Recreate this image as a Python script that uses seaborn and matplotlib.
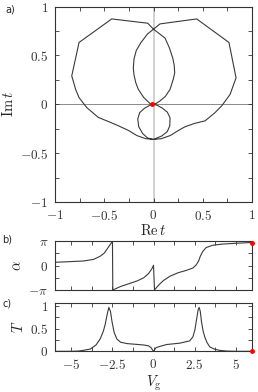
import numpy as np
import pandas as pd
import seaborn as sns
import matplotlib.pyplot as plt
from matplotlib.ticker import FixedLocator, MultipleLocator

# complex transmission t traced in the plane (ordered along V_g)
re_t = [0.0, 0.03, 0.066, 0.12, 0.168, 0.20, 0.215, 0.21, 0.195, 0.16, 0.117, 0.0,
        -0.059, -0.424, -0.756, -0.83, -0.79, -0.756, -0.678, -0.56, -0.45, -0.357,
        -0.25, -0.17, -0.08, 0.0,
        0.083, 0.14, 0.165, 0.168, 0.14, 0.09, 0.04, 0.0,
        -0.04, -0.09, -0.14, -0.16, -0.15, -0.11, -0.06, 0.0,
        0.08, 0.17, 0.25, 0.32, 0.42, 0.523, 0.62, 0.692, 0.777, 0.838, 0.766,
        0.438, 0.066, 0.0,
        -0.06, -0.127, -0.175, -0.198, -0.205, -0.198, -0.18, -0.154, -0.10,
        -0.035, -0.018]
im_t = [0.0, 0.01, 0.034, 0.08, 0.152, 0.254, 0.32, 0.40, 0.474, 0.58, 0.677, 0.768,
        0.829, 0.873, 0.632, 0.29, 0.15, 0.068, -0.034, -0.135, -0.18, -0.22,
        -0.27, -0.32, -0.352, -0.36,
        -0.325, -0.28, -0.22, -0.14, -0.08, -0.04, -0.012, 0.0,
        -0.012, -0.04, -0.085, -0.15, -0.23, -0.30, -0.345, -0.36,
        -0.352, -0.32, -0.27, -0.23, -0.195, -0.17, -0.09, -0.017, 0.10, 0.27, 0.632,
        0.873, 0.822, 0.768,
        0.72, 0.632, 0.55, 0.464, 0.37, 0.30, 0.22, 0.152, 0.07,
        0.007, 0.0]

# phase alpha vs gate voltage
vg_alpha = [-6.0, -5.0, -4.25, -3.65, -3.25, -3.0, -2.8, -2.6, -2.5, -2.48, -2.0, -1.5,
            -1.0, -0.6, -0.3, -0.1, 0.0, 0.06, 0.3, 0.6, 1.0, 1.5, 2.0, 2.4, 2.6,
            2.75, 2.85, 3.0, 3.2, 3.6, 4.2, 5.0, 6.0]
alpha = [0.43, 0.52, 0.6, 0.8, 1.2, 1.6, 2.2, 2.8, 3.1, -3.1, -2.65, -2.3,
         -1.95, -1.55, -1.0, -0.4, 0.05, -3.1, -2.5, -1.9, -1.35, -0.9, -0.6, -0.3, 0.1,
         0.6, 1.2, 1.8, 2.3, 2.6, 2.75, 2.85, 2.95]

# transmission T vs gate voltage
vg_T = [-6.0, -5.0, -4.6, -4.3, -3.85, -3.5, -3.24, -3.05, -2.94, -2.82, -2.72, -2.62,
        -2.53, -2.4, -2.23, -2.0, -1.6, -1.1, -0.6, -0.3, -0.15, 0.0,
        0.15, 0.4, 0.8, 1.6, 2.2, 2.4, 2.52, 2.62, 2.72, 2.78, 2.85, 2.92, 3.02,
        3.12, 3.25, 3.42, 3.7, 4.03, 4.5, 5.0, 6.0]
T = [0.0, 0.0, 0.005, 0.02, 0.05, 0.14, 0.28, 0.45, 0.6, 0.82, 0.97, 0.88,
     0.66, 0.42, 0.27, 0.2, 0.17, 0.155, 0.14, 0.12, 0.08, 0.0,
     0.08, 0.11, 0.15, 0.18, 0.23, 0.32, 0.47, 0.7, 0.92, 0.97, 0.88, 0.66, 0.45,
     0.32, 0.2, 0.1, 0.05, 0.02, 0.005, 0.0, 0.0]

end_t = (-0.018, 0.0)
end_vg = 6.0

sns.set_style("ticks")
plt.rcParams['mathtext.fontset'] = 'cm'
plt.rcParams['font.family'] = ['DejaVu Sans']
plt.rcParams['xtick.direction'] = 'in'
plt.rcParams['ytick.direction'] = 'in'
plt.rcParams['xtick.top'] = True
plt.rcParams['ytick.right'] = True
for k in ['xtick.major.size', 'ytick.major.size', 'xtick.minor.size', 'ytick.minor.size']:
    plt.rcParams[k] = 3
for k in ['xtick.major.width', 'ytick.major.width', 'xtick.minor.width', 'ytick.minor.width']:
    plt.rcParams[k] = 0.6
plt.rcParams['axes.linewidth'] = 0.8
plt.rcParams['axes.edgecolor'] = '#333333'
plt.rcParams['xtick.color'] = '#333333'
plt.rcParams['ytick.color'] = '#333333'

line_col = '#3a3a3a'
tick_fs = 9.5
lab_fs = 10.5

fig = plt.figure(figsize=(2.58, 3.92), dpi=100)
ax_a = fig.add_axes([0.2132, 0.4847, 0.7636, 0.4987])
ax_b = fig.add_axes([0.2132, 0.2594, 0.7636, 0.1258])
ax_c = fig.add_axes([0.2132, 0.1038, 0.7636, 0.1224])


def mlab(vals):
    return ['$' + ('%g' % v) + '$' for v in vals]


# panel a
ax_a.axvline(0, color='#c8c8c8', lw=1.2, zorder=0)
ax_a.axhline(0, color='#8a8a8a', lw=0.7, zorder=0)
sns.lineplot(x=re_t, y=im_t, sort=False, estimator=None, ax=ax_a,
             color=line_col, lw=0.8)
ax_a.plot(*end_t, 'o', color='red', ms=2.5, zorder=5)
ax_a.set_xlim(-1, 1)
ax_a.set_ylim(-1, 1)
ticks_a = [-1, -0.5, 0, 0.5, 1]
ax_a.xaxis.set_major_locator(FixedLocator(ticks_a))
ax_a.yaxis.set_major_locator(FixedLocator(ticks_a))
ax_a.xaxis.set_minor_locator(MultipleLocator(0.25))
ax_a.yaxis.set_minor_locator(MultipleLocator(0.25))
ax_a.set_xticklabels(mlab(ticks_a), fontsize=tick_fs)
ax_a.set_yticklabels(mlab(ticks_a), fontsize=tick_fs)
ax_a.tick_params(which='both', pad=5)
ax_a.set_xlabel(r'$\mathrm{Re}\,t$', fontsize=lab_fs, labelpad=0)
ax_a.set_ylabel(r'$\mathrm{Im}\,t$', fontsize=lab_fs, labelpad=3)

# panel b
sns.lineplot(x=vg_alpha, y=alpha, sort=False, estimator=None, ax=ax_b,
             color=line_col, lw=0.8)
ax_b.plot(end_vg, alpha[-1], 'o', color='red', ms=2.5, zorder=5, clip_on=False)
ax_b.set_xlim(-6, 6)
ax_b.set_ylim(-np.pi, np.pi)
ax_b.xaxis.set_major_locator(MultipleLocator(2.5))
ax_b.xaxis.set_minor_locator(MultipleLocator(1.25))
ax_b.set_xticklabels([])
ax_b.yaxis.set_major_locator(FixedLocator([-np.pi, 0, np.pi]))
ax_b.yaxis.set_minor_locator(FixedLocator([-np.pi / 2, np.pi / 2]))
ax_b.set_yticklabels([r'$-\pi$', r'$0$', r'$\pi$'], fontsize=tick_fs)
ax_b.tick_params(which='both', pad=5)
ax_b.set_ylabel(r'$\alpha$', fontsize=lab_fs, labelpad=3)

# panel c
sns.lineplot(x=vg_T, y=T, sort=False, estimator=None, ax=ax_c,
             color=line_col, lw=0.8)
ax_c.plot(end_vg, T[-1], 'o', color='red', ms=2.5, zorder=5, clip_on=False)
ax_c.set_xlim(-6, 6)
ax_c.set_ylim(0, 1.06)
ticks_x = [-5, -2.5, 0, 2.5, 5]
ax_c.xaxis.set_major_locator(FixedLocator(ticks_x))
ax_c.xaxis.set_minor_locator(MultipleLocator(1.25))
ax_c.set_xticklabels(mlab(ticks_x), fontsize=tick_fs)
ax_c.yaxis.set_major_locator(FixedLocator([0, 0.5, 1]))
ax_c.yaxis.set_minor_locator(MultipleLocator(0.25))
ax_c.set_yticklabels(mlab([0, 0.5, 1]), fontsize=tick_fs)
ax_c.tick_params(which='both', pad=5)
ax_c.set_xlabel(r'$V_\mathrm{g}$', fontsize=lab_fs, labelpad=1)
ax_c.set_ylabel(r'$T$', fontsize=lab_fs, labelpad=3)

fig.text(0.02, 0.975, 'a)', fontsize=7, va='center')
fig.text(0.01, 0.39, 'b)', fontsize=7, va='center')
fig.text(0.01, 0.225, 'c)', fontsize=7, va='center')

fig.savefig('out.png', dpi=100)
